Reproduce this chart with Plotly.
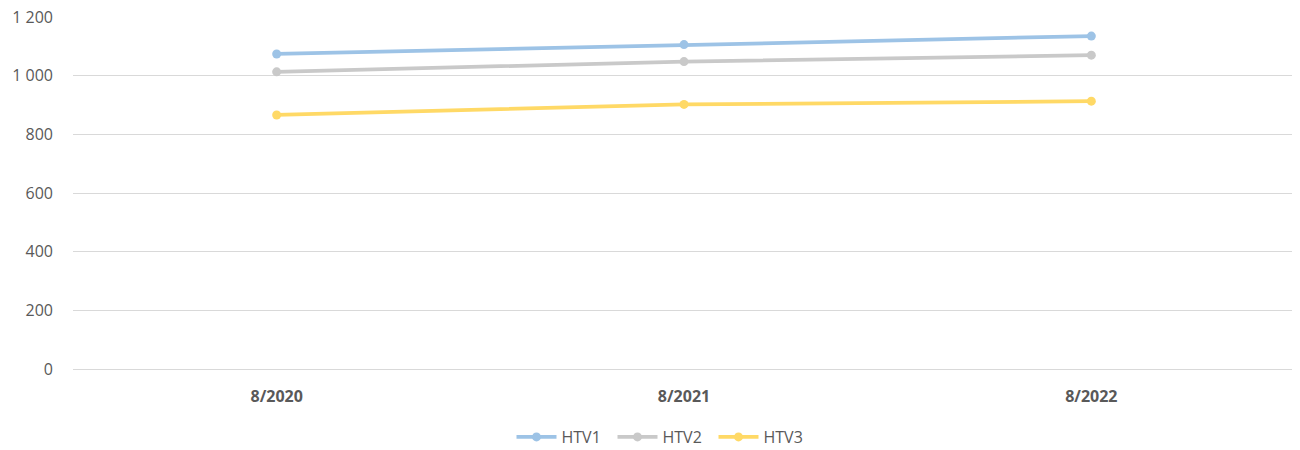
import plotly.graph_objects as go

categories = ["8/2020", "8/2021", "8/2022"]
htv1 = [1074, 1106, 1135]
htv2 = [1013, 1048, 1070]
htv3 = [866, 902, 913]
series_names = ["HTV1", "HTV2", "HTV3"]
colors = ["#9DC3E6", "#C9C9C9", "#FFD966"]

fig = go.Figure()
for name, vals, col in zip(series_names, [htv1, htv2, htv3], colors):
    fig.add_trace(go.Scatter(
        x=categories, y=vals, name=name, mode="lines+markers",
        line=dict(color=col, width=3.75),
        marker=dict(color=col, size=9),
    ))

W, H = 1292, 442
fig.update_layout(
    width=W, height=H,
    paper_bgcolor="white", plot_bgcolor="white",
    margin=dict(l=65, r=5, t=9, b=81, autoexpand=False),
    separators=". ",
    font=dict(family="Open Sans, Noto Sans, sans-serif", color="#595959", size=16),
    showlegend=True,
    legend=dict(orientation="h", x=655 / W, xref="container", xanchor="center",
                y=13 / H, yref="container", yanchor="middle",
                font=dict(size=16, color="#595959"), itemwidth=40,
                entrywidth=46, traceorder="normal"),
    xaxis=dict(type="category", range=[-0.5, 2.5], showgrid=False, showline=False,
               ticks="", tickfont=dict(size=16, color="#595959", weight="bold"),
               ticklabelstandoff=16, automargin=False),
    yaxis=dict(range=[0, 1200], dtick=200, automargin=False,
               tickformat=",", showgrid=True, ticklabeloverflow="allow",
               gridcolor="#D9D9D9", gridwidth=1, zeroline=True, zerolinecolor="#D9D9D9",
               zerolinewidth=1, showline=False, ticks="", ticklabelstandoff=19,
               tickfont=dict(size=16, color="#595959")),
)

fig.write_html("out.html")
